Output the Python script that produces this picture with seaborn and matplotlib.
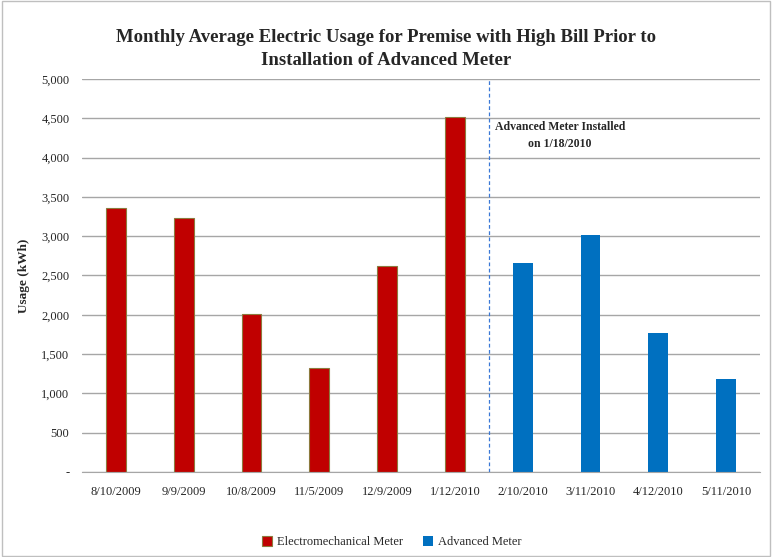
import matplotlib
matplotlib.use('Agg')
import matplotlib.pyplot as plt
import pandas as pd
import seaborn as sns
from matplotlib.ticker import FuncFormatter
from matplotlib.patches import Rectangle

# chart values
dates = ['8/10/2009', '9/9/2009', '10/8/2009', '11/5/2009', '12/9/2009', '1/12/2010',
         '2/10/2010', '3/11/2010', '4/12/2010', '5/11/2010']
usage = [3355, 3228, 2006, 1327, 2621, 4513, 2663, 3015, 1772, 1183]
meter = ['Electromechanical Meter'] * 6 + ['Advanced Meter'] * 4
colors = {'Electromechanical Meter': '#C00000', 'Advanced Meter': '#0070C0'}

df = pd.DataFrame({'Date': dates, 'Usage': usage, 'Meter': meter})

sns.set_style('white')
plt.rcParams['font.family'] = ['Liberation Serif', 'DejaVu Serif']

fig = plt.figure(figsize=(7.72, 5.57), dpi=100)
ax = fig.add_axes([0.1062, 0.1526, 0.8783, 0.7056])

sns.barplot(data=df, x='Date', y='Usage', hue='Meter', palette=colors,
            dodge=False, width=0.29, saturation=1, ax=ax, legend=True)

# outline the red bars like the original
for bar in ax.patches:
    fc = bar.get_facecolor()
    if fc[0] > 0.5:
        bar.set_edgecolor('#8C7A3E')
        bar.set_linewidth(0.8)
    else:
        bar.set_edgecolor('none')

ax.set_ylim(0, 5000)
ax.set_xlim(-0.5, len(dates) - 0.5)
ax.set_yticks(range(0, 5001, 500))
ax.yaxis.set_major_formatter(FuncFormatter(lambda v, p: '-' if v == 0 else f'{int(v):,}'))
ax.grid(axis='y', color='#A6A6A6', linewidth=1)
ax.set_axisbelow(True)
for s in ['top', 'right', 'left']:
    ax.spines[s].set_visible(False)
ax.spines['bottom'].set_color('#A6A6A6')
ax.tick_params(axis='y', labelsize=9, length=0, pad=9)
ax.tick_params(axis='x', labelsize=9, length=0, pad=10)
ax.set_xlabel('')
ax.set_ylabel('Usage (kWh)', fontsize=9.5, fontweight='bold', labelpad=8)

# meter change marker
ax.axvline(5.5, color='#3A78D6', linestyle=(0, (3, 2)), linewidth=0.9)
ax.text(6.55, 4280, 'Advanced Meter Installed\non 1/18/2010', ha='center', va='center',
        fontsize=8.5, fontweight='bold', linespacing=1.5)

fig.suptitle('Monthly Average Electric Usage for Premise with High Bill Prior to\nInstallation of Advanced Meter',
             y=0.948, fontsize=13.5, fontweight='bold', linespacing=1.45)

ax.legend(loc='upper center', bbox_to_anchor=(0.457, -0.135), ncol=2, frameon=False,
          fontsize=9, handlelength=0.8, handleheight=0.8, columnspacing=1.6, handletextpad=0.4)

fig.patches.append(Rectangle((0.002, 0.002), 0.996, 0.996, transform=fig.transFigure,
                             fill=False, edgecolor='#BFBFBF', linewidth=1))

plt.savefig('out.png', dpi=100)
